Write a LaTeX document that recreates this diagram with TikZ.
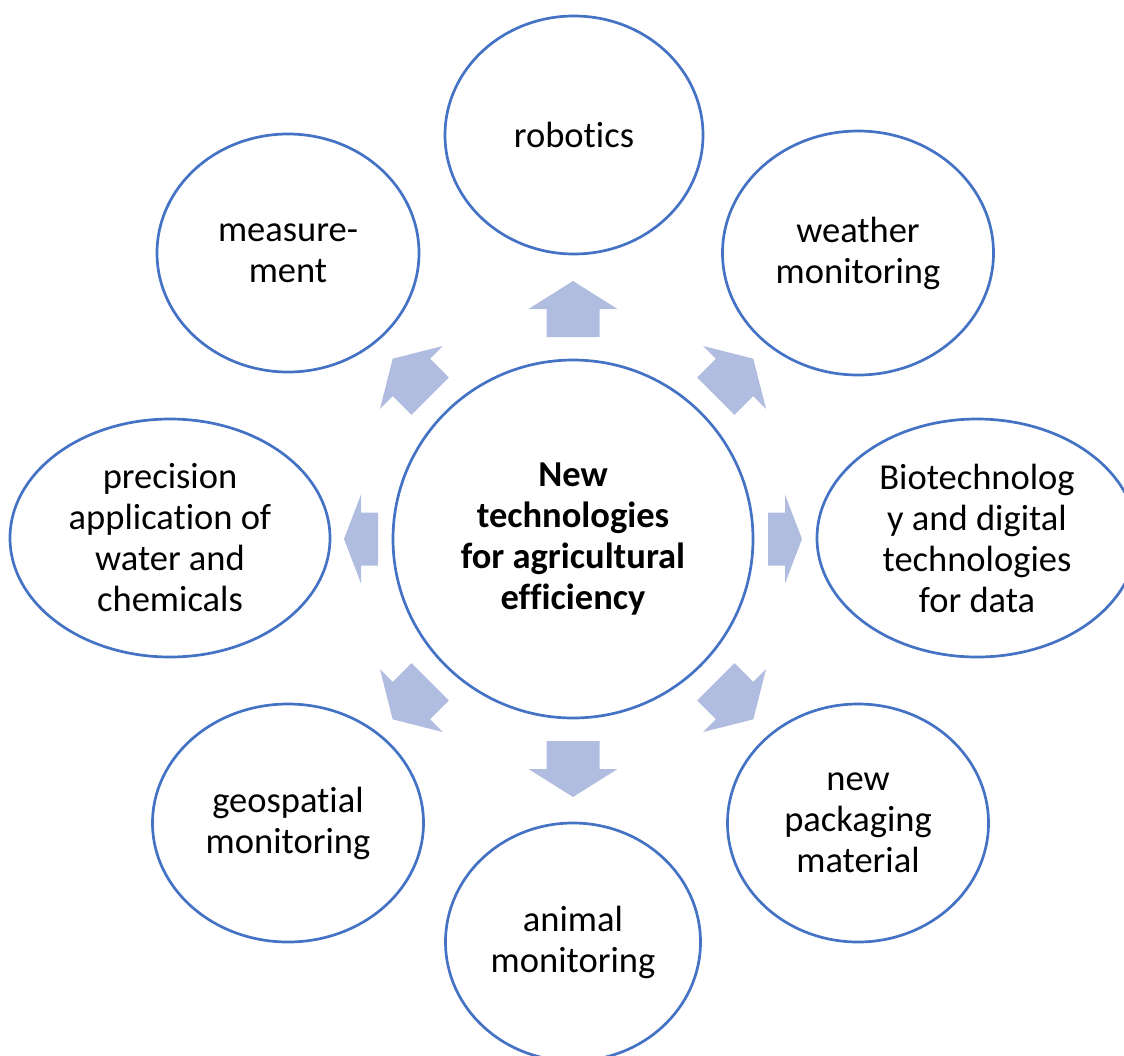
\documentclass[tikz,border=0pt]{standalone}
\usepackage{fontspec}
\setmainfont{Carlito}[Ligatures=NoCommon]
\usetikzlibrary{shapes.geometric}
\definecolor{ringblue}{RGB}{68,114,196}
\definecolor{arrowfill}{RGB}{176,189,224}

\begin{document}
\begin{tikzpicture}[x=1pt,y=-1pt,
  bubble/.style={ellipse, draw=ringblue, line width=2.7pt, inner sep=0pt,
    align=center, font=\fontsize{36.5}{41}\selectfont},
  hub/.style={bubble, font=\fontsize{36.5}{41}\selectfont\bfseries}]
\useasboundingbox (0,0) rectangle (1124,1055);

% centre
\node[hub, minimum width=360pt, minimum height=358pt] (hub) at (573,539)
  {New\\technologies\\for agricultural\\efficiency};

% block arrows round the centre
\foreach \ang/\ra/\rb in {90/202/258,45/202/255,0/195/229,-45/202/255,
                          -90/202/258,-135/202/255,180/195/229,135/202/255}
{\begin{scope}[shift={(hub.center)}, rotate=\ang]
\fill[arrowfill] (\ra,-26.5) -- ({(\ra+\rb)/2},-26.5) -- ({(\ra+\rb)/2},-44.5)
  -- (\rb,0) -- ({(\ra+\rb)/2},44.5) -- ({(\ra+\rb)/2},26.5) -- (\ra,26.5) -- cycle;
\end{scope}}

% outer ring
\node[bubble, minimum width=258pt, minimum height=238pt] (robotics) at (574,135) {robotics};
\node[bubble, minimum width=271pt, minimum height=244pt] (weather) at (858,253) {weather\\monitoring};
\node[bubble, minimum width=320pt, minimum height=238pt] (biotech) at (977,538)
  {Biotechnolog\\y and digital\\technologies\\for data};
\node[bubble, minimum width=261pt, minimum height=238pt] (packaging) at (858,823)
  {new\\packaging\\material};
\node[bubble, minimum width=255pt, minimum height=238pt] (animal) at (573,942) {animal\\monitoring};
\node[bubble, minimum width=271pt, minimum height=238pt] (geospatial) at (288,823)
  {geospatial\\monitoring};
\node[bubble, minimum width=320pt, minimum height=238pt] (precision) at (170,538)
  {precision\\application of\\water and\\chemicals};
\node[bubble, minimum width=262pt, minimum height=238pt] (measure) at (288,253) {measure-\\ment};

\end{tikzpicture}
\end{document}
